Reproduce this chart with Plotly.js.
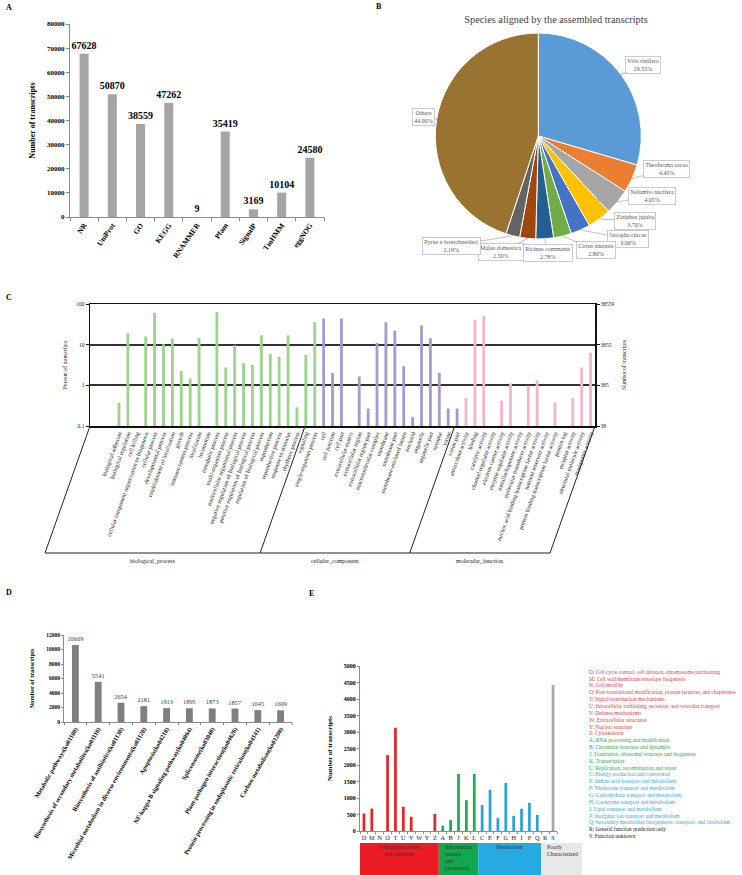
<!DOCTYPE html>
<html><head><meta charset="utf-8">
<script src="https://cdn.plot.ly/plotly-3.0.1.min.js"></script>
<style>
html,body{margin:0;padding:0;background:#fff;}
#wrap{position:relative;width:742px;height:875px;overflow:hidden;background:#fff;}
.p{position:absolute;}
</style></head><body>
<div id="wrap">
<div id="A" class="p" style="left:0;top:0;width:370px;height:290px"></div>
<div id="B" class="p" style="left:370px;top:0;width:372px;height:290px"></div>
<div id="C" class="p" style="left:0;top:290px;width:742px;height:285px"></div>
<div id="D" class="p" style="left:0;top:575px;width:300px;height:300px"></div>
<div id="E" class="p" style="left:300px;top:575px;width:442px;height:300px"></div>
</div>
<script>
// ---------- DATA ----------
const aCats = ['NR','UniProt','GO','KEGG','RNAMMER','Pfam','SignalP','TmHMM','eggNOG'];
const aVals = [67628,50870,38559,47262,9,35419,3169,10104,24580];

const pieTitle = 'Species aligned by the assembled transcripts';
const pieLabels = ['Vitis vinifera','Theobroma cacao','Nelumbo nucifera','Ziziphus jujuba','Jatropha curcas','Citrus sinensis','Ricinus communis','Malus domestica','Pyrus x bretschneideri','Others'];
const piePct = [29.55,4.45,4.05,3.70,3.06,2.80,2.78,2.50,2.19,44.90];

const bpCats = ['biological adhesion','biological regulation','cell killing','cellular component organization or biogenesis','cellular process','developmental process','establishment of localization','growth','immune system process','localization','locomotion','metabolic process','multi-organism process','multicellular organismal process','negative regulation of biological process','positive regulation of biological process','regulation of biological process','reproduction','reproductive process','response to stimulus','rhythmic process','signaling','single-organism process'];
const bpVals = [0.37,19,null,15.8,61,10.2,14,2.24,1.48,14.5,null,64,2.76,9.7,3.47,3.15,17,5.9,5.0,17,0.29,5.6,35.7];
const ccCats = ['cell','cell junction','cell part','extracellular matrix','extracellular region','extracellular region part','macromolecular complex','membrane','membrane part','membrane-enclosed lumen','nucleoid','organelle','organelle part','synapse','virion','virion part'];
const ccVals = [44,2.0,44,null,1.66,0.27,11,35.6,21.8,2.93,0.164,29.5,14.4,2.0,0.27,0.27];
const mfCats = ['antioxidant activity','binding','catalytic activity','channel regulator activity','electron carrier activity','enzyme regulator activity','metallochaperone activity','molecular transducer activity','nucleic acid binding transcription factor activity','nutrient reservoir activity','protein binding transcription factor activity','protein tag','receptor activity','structural molecule activity','transporter activity'];
const mfVals = [0.49,41,51,null,0.42,1.13,null,0.98,1.32,null,0.38,null,0.49,2.76,6.3];
const goGroups = ['biological_process','cellular_component','molecular_function'];
const leftTickVals = [0.1,1,10,100];
const leftTickLabels = ['0.1','1','10','100'];
const rightTickLabels = ['38','385','3855','38559'];

const dCats = ['Metabolic pathways(ko01100)','Biosynthesis of secondary metabolites(ko01110)','Biosynthesis of antibiotics(ko01130)','Microbial metabolism in diverse environments(ko01120)','Apoptosis(ko04210)','NF-kappa B signaling pathway(ko04064)','Spliceosome(ko03040)','Plant-pathogen interaction(ko04626)','Protein processing in endoplasmic reticulum(ko04141)','Carbon metabolism(ko01200)'];
const dVals = [10609,5541,2654,2181,1913,1895,1873,1857,1645,1609];

const eCats = ['D','M','N','O','T','U','V','W','Y','Z','A','B','J','K','L','C','E','F','G','H','I','P','Q','R','S'];
const eVals = [530,680,0,2300,3130,735,430,0,0,515,160,340,1730,935,1730,785,1250,390,1460,460,675,855,490,0,4420];
const eGroupSizes = [10,5,8,2];
const eGroupLines = [['Cellular processes','and signaling'],['Information','storage','and','processing'],['Metabolism'],['Poorly','Characterized']];
const eDesc = ['Cell cycle control, cell division, chromosome partitioning','Cell wall/membrane/envelope biogenesis','Cell motility','Post-translational modification, protein turnover, and chaperones','Signal transduction mechanisms','Intracellular trafficking, secretion, and vesicular transport','Defense mechanisms','Extracellular structures','Nuclear structure','Cytoskeleton','RNA processing and modification','Chromatin structure and dynamics','Translation, ribosomal structure and biogenesis','Transcription','Replication, recombination and repair','Energy production and conversion','Amino acid transport and metabolism','Nucleotide transport and metabolism','Carbohydrate transport and metabolism','Coenzyme transport and metabolism','Lipid transport and metabolism','Inorganic ion transport and metabolism','Secondary metabolites biosynthesis, transport, and catabolism','General function prediction only','Function unknown'];

// ---------- STYLE ----------
const SERIF = '"Liberation Serif","Times New Roman",serif';
const cfg = {staticPlot:true, displayModeBar:false};
function P(m,W,H,px,py){const w=W-m.l-m.r,h=H-m.t-m.b;return {x:(px-m.l)/w,y:1-(py-m.t)/h};}
function letter(m,W,H,px,py,t){const p=P(m,W,H,px,py);return {xref:'paper',yref:'paper',x:p.x,y:p.y,xanchor:'left',yanchor:'middle',showarrow:false,text:t,font:{family:SERIF,size:8,color:'#000',weight:'bold'}};}

// ---------- PANEL A ----------
(function(){
  const W=370,H=290,m={l:70,r:46,t:24,b:73};
  Plotly.newPlot('A',[{type:'bar',x:aCats,y:aVals,marker:{color:'#a5a5a5'},text:aVals.map(String),textposition:'outside',constraintext:'none',cliponaxis:false,textfont:{family:SERIF,size:10,color:'#000',weight:'bold'},hoverinfo:'skip'}],{
    width:W,height:H,margin:m,paper_bgcolor:'rgba(0,0,0,0)',plot_bgcolor:'rgba(0,0,0,0)',bargap:0.68,showlegend:false,
    xaxis:{type:'category',tickmode:'linear',dtick:1,tickangle:-55,automargin:false,tickfont:{family:SERIF,size:7.5,color:'#000',weight:'bold'},showline:true,linecolor:'#8c8c8c',linewidth:1,ticks:'outside',tickson:'boundaries',ticklen:3,tickcolor:'#8c8c8c',showgrid:false},
    yaxis:{range:[0,80000],dtick:10000,tickformat:'d',automargin:false,showgrid:false,zeroline:false,showline:true,linecolor:'#8c8c8c',ticks:'outside',ticklen:3,tickcolor:'#8c8c8c',tickfont:{family:SERIF,size:7,color:'#000',weight:'bold'},title:{text:'Number of transcripts',standoff:10,font:{family:SERIF,size:8,color:'#000',weight:'bold'}}},
    annotations:[letter(m,W,H,4,8,'A')]
  },cfg);
})();

// ---------- PANEL B ----------
(function(){
  const W=372,H=290,cx=168.3,cy=136,R=103;
  const labelPos=[[272.7,65],[296.7,169.3],[282,196],[265,221],[258,239],[226,250],[178,252.7],[130.7,252.3],[81,246],[53.7,117.3]];
  const colors=['#5b9bd5','#ed7d31','#a5a5a5','#ffc000','#4472c4','#70ad47','#255e91','#9e480e','#636363','#997330'];
  const total=piePct.reduce((a,b)=>a+b,0);
  let cum=0; const ann=[];
  piePct.forEach((p,i)=>{
    const mid=(cum+p/2)/total*2*Math.PI; cum+=p;
    const hx=cx+R*Math.sin(mid), hy=cy-R*Math.cos(mid);
    ann.push({xref:'paper',yref:'paper',x:hx/W,y:1-hy/H,ax:labelPos[i][0]-hx,ay:labelPos[i][1]-hy,showarrow:true,arrowhead:0,arrowwidth:0.7,arrowcolor:'#a6a6a6',standoff:0,
      text:pieLabels[i]+'<br>'+p.toFixed(2)+'%',align:'center',font:{family:SERIF,size:6,color:'#595959'},bgcolor:'#fff',bordercolor:'#bfbfbf',borderwidth:0.8,borderpad:1.5});
  });
  ann.push({xref:'paper',yref:'paper',x:4/W,y:1-6/H,xanchor:'left',yanchor:'middle',showarrow:false,text:'B',font:{family:SERIF,size:8,color:'#000',weight:'bold'}});
  Plotly.newPlot('B',[{type:'pie',labels:pieLabels,values:piePct,sort:false,direction:'clockwise',rotation:0,textinfo:'none',hoverinfo:'skip',
    marker:{colors:colors,line:{color:'#fff',width:1}},domain:{x:[(cx-R)/W,(cx+R)/W],y:[1-(cy+R)/H,1-(cy-R)/H]}}],{
    width:W,height:H,margin:{l:0,r:0,t:0,b:0},paper_bgcolor:'rgba(0,0,0,0)',showlegend:false,
    title:{text:pieTitle,x:0.5,xanchor:'center',y:1-19/H,yanchor:'middle',font:{family:SERIF,size:10.3,color:'#404040'}},
    annotations:ann
  },cfg);
})();

// ---------- PANEL C ----------
(function(){
  const W=742,H=285,m={l:90,r:147,t:14,b:149};
  const allCats=bpCats.concat(ccCats,mfCats);
  const n=allCats.length, plotW=W-m.l-m.r;
  const colors=['#9dd38e','#a89ac9','#f2b5d0'];
  const sets=[[bpCats,bpVals],[ccCats,ccVals],[mfCats,mfVals]];
  const traces=sets.map((s,i)=>({type:'bar',x:s[0],y:s[1],marker:{color:colors[i]},hoverinfo:'skip'}));
  traces.push({type:'scatter',mode:'markers',x:bpCats,y:bpVals,yaxis:'y2',marker:{opacity:0},hoverinfo:'skip'});
  // group brackets
  const bounds=[0,bpCats.length,bpCats.length+ccCats.length,n];
  const yTop=136, yBase=263, slant=45;
  const shapes=[], ann=[];
  bounds.forEach(b=>{
    const px=m.l+b/n*plotW;
    const p0=P(m,W,H,px,yTop), p1=P(m,W,H,px-slant,yBase);
    shapes.push({type:'line',xref:'paper',yref:'paper',x0:p0.x,y0:p0.y,x1:p1.x,y1:p1.y,line:{color:'#222',width:1}});
  });
  const l0=P(m,W,H,m.l-slant,yBase), l1=P(m,W,H,m.l+plotW-slant,yBase);
  shapes.push({type:'line',xref:'paper',yref:'paper',x0:l0.x,y0:l0.y,x1:l1.x,y1:l1.y,line:{color:'#222',width:1}});
  goGroups.forEach((g,i)=>{
    const pxc=m.l+(bounds[i]+bounds[i+1])/2/n*plotW-slant;
    const p=P(m,W,H,pxc,yBase+3);
    ann.push({xref:'paper',yref:'paper',x:p.x,y:p.y,xanchor:'center',yanchor:'top',showarrow:false,text:g,font:{family:SERIF,size:6,color:'#222'}});
  });
  ann.push(letter(m,W,H,4,7,'C'));
  Plotly.newPlot('C',traces,{
    width:W,height:H,margin:m,paper_bgcolor:'rgba(0,0,0,0)',plot_bgcolor:'rgba(0,0,0,0)',barmode:'overlay',bargap:0.68,showlegend:false,
    xaxis:{type:'category',categoryorder:'array',categoryarray:allCats,tickmode:'linear',dtick:1,tickangle:-70,automargin:false,tickfont:{family:SERIF,size:6,color:'#222'},showline:true,mirror:true,linecolor:'#111',linewidth:1.5,ticks:'',showgrid:false},
    yaxis:{type:'log',range:[-1,2],tickvals:leftTickVals,ticktext:leftTickLabels,automargin:false,showgrid:true,gridcolor:'#333',gridwidth:1.8,zeroline:false,showline:true,linecolor:'#111',linewidth:1.5,ticks:'outside',ticklen:3,tickcolor:'#111',tickfont:{family:SERIF,size:5.5,color:'#222'},title:{text:'Percent of transcripts',standoff:8,font:{family:SERIF,size:5.7,color:'#222'}}},
    yaxis2:{type:'log',overlaying:'y',side:'right',range:[-1,2],tickvals:leftTickVals,ticktext:rightTickLabels,automargin:false,showgrid:false,zeroline:false,showline:true,linecolor:'#111',linewidth:1.5,ticks:'outside',ticklen:3,tickcolor:'#111',tickfont:{family:SERIF,size:5.5,color:'#222'},title:{text:'Number of transcripts',standoff:8,font:{family:SERIF,size:5.7,color:'#222'}}},
    shapes:shapes,annotations:ann
  },cfg);
})();

// ---------- PANEL D ----------
(function(){
  const W=300,H=300,m={l:64,r:8,t:60,b:153};
  Plotly.newPlot('D',[{type:'bar',x:dCats,y:dVals,marker:{color:'#7f7f7f'},text:dVals.map(String),textposition:'outside',constraintext:'none',cliponaxis:false,textfont:{family:SERIF,size:6.4,color:'#404040'},hoverinfo:'skip'}],{
    width:W,height:H,margin:m,paper_bgcolor:'rgba(0,0,0,0)',plot_bgcolor:'rgba(0,0,0,0)',bargap:0.7,showlegend:false,
    xaxis:{type:'category',tickmode:'linear',dtick:1,tickangle:-60,automargin:false,tickfont:{family:SERIF,size:6.3,color:'#000',weight:'bold'},showline:true,linecolor:'#8c8c8c',ticks:'outside',tickson:'boundaries',ticklen:2,tickcolor:'#8c8c8c',showgrid:false},
    yaxis:{range:[0,12000],dtick:2000,tickformat:'d',automargin:false,showgrid:false,zeroline:false,showline:true,linecolor:'#8c8c8c',ticks:'outside',ticklen:2,tickcolor:'#8c8c8c',tickfont:{family:SERIF,size:5.5,color:'#000',weight:'bold'},title:{text:'Number of transcripts',standoff:10,font:{family:SERIF,size:6.3,color:'#000',weight:'bold'}}},
    annotations:[letter(m,W,H,4,18,'D')]
  },cfg);
})();

// ---------- PANEL E ----------
(function(){
  const W=442,H=300,m={l:60,r:185,t:91,b:44};
  const barCols=['#e3262b','#1fae50','#2aa3dc','#a6a6a6'];
  const bandCols=['#ec1c24','#11a84f','#27aae1','#e8e8e8'];
  const textCols=['#d9404a','#2aa84a','#38a4d8','#222'];
  const colArr=[], txtArr=[];
  eGroupSizes.forEach((s,g)=>{for(let k=0;k<s;k++){colArr.push(barCols[g]);txtArr.push(textCols[g]);}});
  const n=eCats.length, plotW=W-m.l-m.r;
  const shapes=[], ann=[];
  let start=0;
  const bandTop=268, bandBot=300, lineH=6.8;
  eGroupSizes.forEach((s,g)=>{
    const x0px=m.l+start/n*plotW;
    const x1px=(g===eGroupSizes.length-1)?282:m.l+(start+s)/n*plotW;
    const a=P(m,W,H,x0px,bandTop), b=P(m,W,H,x1px,bandBot);
    shapes.push({type:'rect',xref:'paper',yref:'paper',x0:a.x,y0:a.y,x1:b.x,y1:b.y,fillcolor:bandCols[g],line:{width:0},layer:'below'});
    const centered=(g===0||g===2);
    eGroupLines[g].forEach((t,li)=>{
      const px=centered?(x0px+x1px)/2:x0px+4;
      const p=P(m,W,H,px,272.3+li*lineH);
      ann.push({xref:'paper',yref:'paper',x:p.x,y:p.y,xanchor:centered?'center':'left',yanchor:'middle',showarrow:false,text:t,font:{family:SERIF,size:5.6,color:'#333'}});
    });
    start+=s;
  });
  eCats.forEach((c,i)=>{
    const p=P(m,W,H,286.7,96.7+i*6.85);
    ann.push({xref:'paper',yref:'paper',x:p.x,y:p.y,xanchor:'left',yanchor:'middle',showarrow:false,text:c+': '+eDesc[i],font:{family:SERIF,size:5.4,color:txtArr[i]}});
  });
  ann.push(letter(m,W,H,7,18,'E'));
  Plotly.newPlot('E',[{type:'bar',x:eCats,y:eVals,marker:{color:colArr},hoverinfo:'skip'}],{
    width:W,height:H,margin:m,paper_bgcolor:'rgba(0,0,0,0)',plot_bgcolor:'rgba(0,0,0,0)',bargap:0.65,showlegend:false,
    xaxis:{type:'category',tickmode:'linear',dtick:1,tickangle:0,automargin:false,tickfont:{family:SERIF,size:6.3,color:'#222'},showline:true,linecolor:'#8c8c8c',ticks:'outside',tickson:'boundaries',ticklen:2,tickcolor:'#8c8c8c',showgrid:false},
    yaxis:{range:[0,5000],dtick:500,tickformat:'d',automargin:false,showgrid:false,zeroline:false,showline:true,linecolor:'#8c8c8c',ticks:'outside',ticklen:2,tickcolor:'#8c8c8c',tickfont:{family:SERIF,size:6,color:'#000',weight:'bold'},title:{text:'Number of transcripts',standoff:10,font:{family:SERIF,size:6.8,color:'#000',weight:'bold'}}},
    shapes:shapes,annotations:ann
  },cfg);
})();
</script>
</body></html>
